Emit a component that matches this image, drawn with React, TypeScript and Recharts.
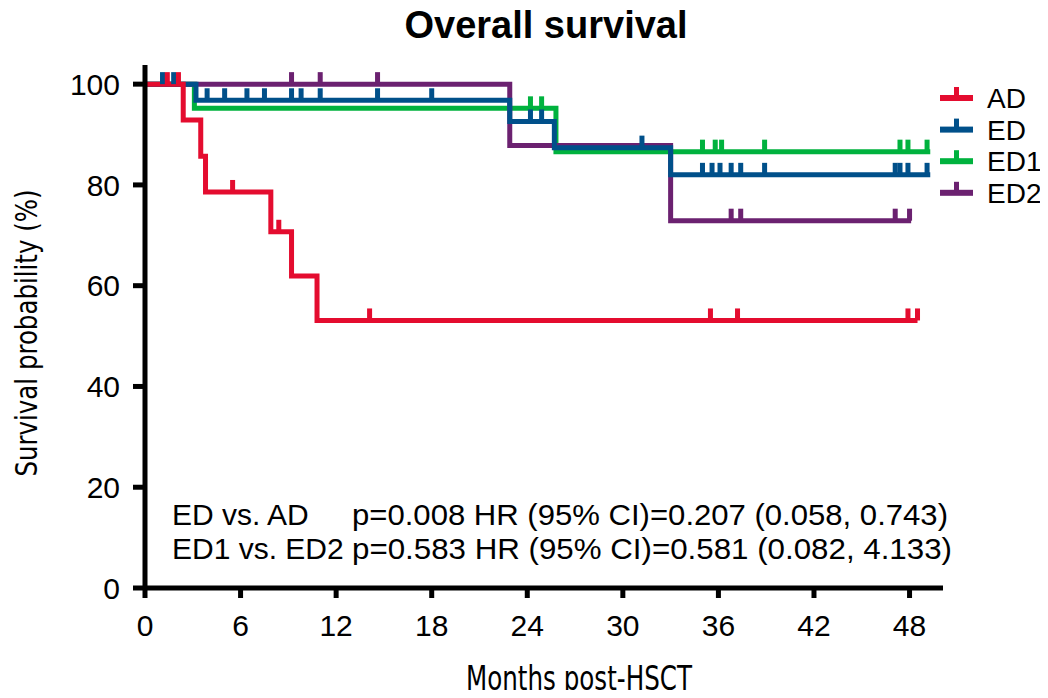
import { Customized, Legend, Line, LineChart, XAxis, YAxis } from "recharts";

// Kaplan-Meier steps: t = months, s = survival %, c = censored mark
type Pt = { t: number; s: number; c?: number };

const AD: Pt[] = [
  { t: 0, s: 100 },
  { t: 1.4, s: 100, c: 1 },
  { t: 2.1, s: 100, c: 1 },
  { t: 2.4, s: 92.9 },
  { t: 3.5, s: 85.7 },
  { t: 3.8, s: 78.6 },
  { t: 5.5, s: 78.6, c: 1 },
  { t: 7.9, s: 70.7 },
  { t: 8.4, s: 70.7, c: 1 },
  { t: 9.2, s: 61.9 },
  { t: 10.8, s: 53.1 },
  { t: 14.1, s: 53.1, c: 1 },
  { t: 35.5, s: 53.1, c: 1 },
  { t: 37.2, s: 53.1, c: 1 },
  { t: 47.9, s: 53.1, c: 1 },
  { t: 48.5, s: 53.1, c: 1 },
];

const ED: Pt[] = [
  { t: 0, s: 100 },
  { t: 1.1, s: 100, c: 1 },
  { t: 1.8, s: 100, c: 1 },
  { t: 3.2, s: 96.8 },
  { t: 3.9, s: 96.8, c: 1 },
  { t: 5.0, s: 96.8, c: 1 },
  { t: 6.4, s: 96.8, c: 1 },
  { t: 7.5, s: 96.8, c: 1 },
  { t: 9.2, s: 96.8, c: 1 },
  { t: 9.8, s: 96.8, c: 1 },
  { t: 11.0, s: 96.8, c: 1 },
  { t: 14.6, s: 96.8, c: 1 },
  { t: 18.0, s: 96.8, c: 1 },
  { t: 22.9, s: 92.6 },
  { t: 24.2, s: 92.6, c: 1 },
  { t: 24.9, s: 92.6, c: 1 },
  { t: 25.7, s: 87.4 },
  { t: 31.2, s: 87.4, c: 1 },
  { t: 33.0, s: 82.0 },
  { t: 35.0, s: 82.0, c: 1 },
  { t: 35.6, s: 82.0, c: 1 },
  { t: 36.1, s: 82.0, c: 1 },
  { t: 36.8, s: 82.0, c: 1 },
  { t: 37.4, s: 82.0, c: 1 },
  { t: 38.9, s: 82.0, c: 1 },
  { t: 47.1, s: 82.0, c: 1 },
  { t: 47.4, s: 82.0, c: 1 },
  { t: 47.9, s: 82.0, c: 1 },
  { t: 49.1, s: 82.0, c: 1 },
  { t: 49.3, s: 82.0 },
];

const ED1: Pt[] = [
  { t: 0, s: 100 },
  { t: 3.1, s: 95.2 },
  { t: 24.2, s: 95.2, c: 1 },
  { t: 24.9, s: 95.2, c: 1 },
  { t: 25.8, s: 86.6 },
  { t: 35.0, s: 86.6, c: 1 },
  { t: 35.8, s: 86.6, c: 1 },
  { t: 36.2, s: 86.6, c: 1 },
  { t: 38.9, s: 86.6, c: 1 },
  { t: 47.4, s: 86.6, c: 1 },
  { t: 47.9, s: 86.6, c: 1 },
  { t: 49.1, s: 86.6, c: 1 },
  { t: 49.3, s: 86.6 },
];

const ED2: Pt[] = [
  { t: 0, s: 100 },
  { t: 9.2, s: 100, c: 1 },
  { t: 11.0, s: 100, c: 1 },
  { t: 14.6, s: 100, c: 1 },
  { t: 22.9, s: 87.8 },
  { t: 33.0, s: 72.9 },
  { t: 36.8, s: 72.9, c: 1 },
  { t: 37.4, s: 72.9, c: 1 },
  { t: 47.1, s: 72.9, c: 1 },
  { t: 48.0, s: 72.9, c: 1 },
  { t: 48.1, s: 72.9 },
];

const X_TICKS = [0, 6, 12, 18, 24, 30, 36, 42, 48];
const Y_TICKS = [0, 20, 40, 60, 80, 100];

const GROUPS = ["AD", "ED", "ED1", "ED2"];
const COLORS = ["#E40C2F", "#00508A", "#00B23E", "#6B2170"];

const STATS = [
  ["ED vs. AD", "p=0.008 HR (95% CI)=0.207 (0.058, 0.743)"],
  ["ED1 vs. ED2", "p=0.583 HR (95% CI)=0.581 (0.082, 4.133)"],
];

const SANS = "'Liberation Sans', Arial, Helvetica, sans-serif";
const NARROW = "'Liberation Sans Narrow', 'DejaVu Sans Condensed', Arial, sans-serif";

function censor(color: string) {
  return (p: any) => {
    if (!p.payload?.c) return <g key={`n-${color}-${p.index}`} />;
    return (
      <rect
        key={`c-${color}-${p.index}`}
        x={p.cx - 2.5}
        y={p.cy - 12}
        width={5}
        height={12}
        fill={color}
      />
    );
  };
}

function LegendBox() {
  return (
    <svg width={112} height={130} style={{ overflow: "visible", display: "block" }}>
      {GROUPS.map((g, i) => {
        const y = 18 + i * 31.6;
        return (
          <g key={g}>
            <rect x={10} y={y - 3} width={33} height={6} fill={COLORS[i]} />
            <rect x={24} y={y - 11} width={5} height={10} fill={COLORS[i]} />
            <text x={57} y={y + 10} fontSize={28} fontFamily={SANS} fill="#000">
              {g}
            </text>
          </g>
        );
      })}
    </svg>
  );
}

function Extras() {
  return (
    <g>
      <text
        x={546}
        y={38}
        textAnchor="middle"
        fontSize={38}
        fontWeight="bold"
        fontFamily={SANS}
        fill="#000"
      >
        Overall survival
      </text>
      <text
        x={579}
        y={690}
        textAnchor="middle"
        fontSize={34}
        fontFamily={NARROW}
        textLength={226}
        lengthAdjust="spacingAndGlyphs"
        fill="#000"
      >
        Months post-HSCT
      </text>
      <text
        x={37}
        y={333}
        textAnchor="middle"
        transform="rotate(-90 37 333)"
        fontSize={30}
        fontFamily={NARROW}
        textLength={287}
        lengthAdjust="spacingAndGlyphs"
        fill="#000"
      >
        Survival probability (%)
      </text>
      {STATS.map(([a, b], i) => (
        <g key={a}>
          <text x={172} y={525 + i * 34} fontSize={30} fontFamily={SANS} fill="#000">
            {a}
          </text>
          <text
            x={352}
            y={525 + i * 34}
            fontSize={30}
            fontFamily={SANS}
            textLength={i === 0 ? 596 : 600}
            lengthAdjust="spacingAndGlyphs"
            fill="#000"
          >
            {b}
          </text>
        </g>
      ))}
    </g>
  );
}

export default function App() {
  const series = [ED1, ED2, ED, AD];
  const idx = [2, 3, 1, 0];
  return (
    <div style={{ width: 1048, height: 698, margin: -8, background: "#fff" }}>
      <LineChart
        width={1048}
        height={698}
        margin={{ top: 65, right: 105, left: 85, bottom: 50 }}
      >
        <XAxis
          type="number"
          dataKey="t"
          domain={[0, 50.1]}
          ticks={X_TICKS}
          allowDataOverflow
          height={60}
          tickSize={10}
          tickMargin={17}
          axisLine={{ stroke: "#000", strokeWidth: 5 }}
          tickLine={{ stroke: "#000", strokeWidth: 5 }}
          tick={{ fill: "#000", fontSize: 30, fontFamily: SANS }}
        />
        <YAxis
          type="number"
          dataKey="s"
          domain={[0, 103.8]}
          ticks={Y_TICKS}
          allowDataOverflow
          width={60}
          tickSize={12}
          tickMargin={13}
          axisLine={{ stroke: "#000", strokeWidth: 5 }}
          tickLine={{ stroke: "#000", strokeWidth: 5 }}
          tick={{ fill: "#000", fontSize: 30, fontFamily: SANS }}
        />
        {series.map((d, k) => (
          <Line
            key={GROUPS[idx[k]]}
            name={GROUPS[idx[k]]}
            data={d}
            dataKey="s"
            type="stepAfter"
            stroke={COLORS[idx[k]]}
            strokeWidth={5}
            strokeLinecap="butt"
            dot={censor(COLORS[idx[k]])}
            activeDot={false}
            isAnimationActive={false}
          />
        ))}
        <Legend
          layout="horizontal"
          verticalAlign="middle"
          align="center"
          content={() => <LegendBox />}
          wrapperStyle={{ left: 930, top: 80, width: 112, height: 130, overflow: "visible" }}
        />
        <Customized component={Extras} />
      </LineChart>
    </div>
  );
}
